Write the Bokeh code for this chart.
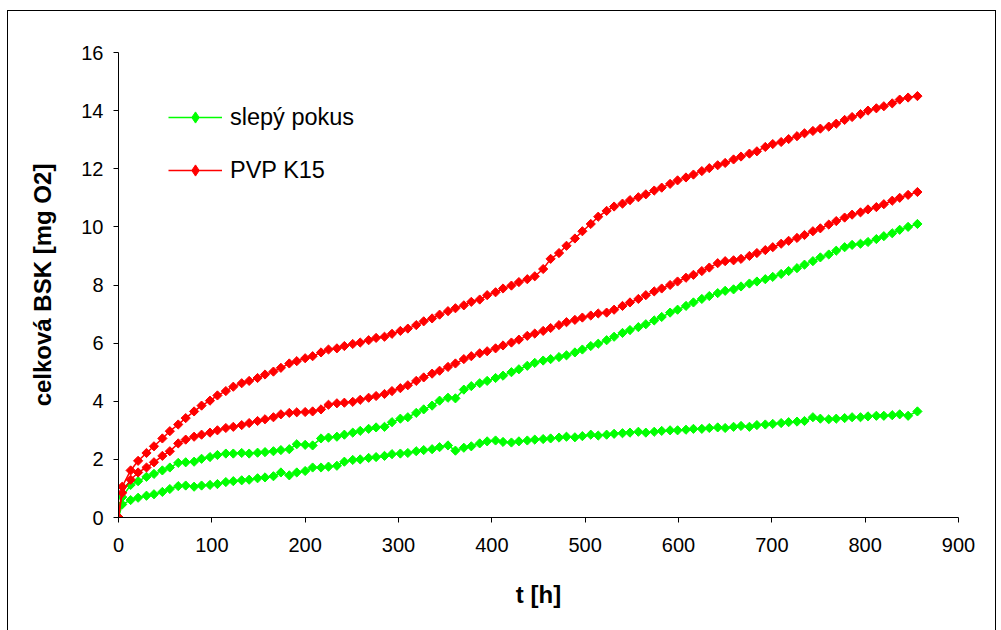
from bokeh.plotting import figure
from bokeh.models import Range1d, FixedTicker, Legend, LegendItem
from bokeh.embed import file_html
from bokeh.resources import INLINE

# measurement times [h]
hours = [0, 4, 13, 21, 30, 38, 47, 55, 64, 72,
         81, 89, 98, 106, 115, 123, 132, 140, 149, 157,
         166, 174, 183, 191, 200, 208, 217, 225, 234, 242,
         251, 259, 268, 276, 285, 293, 302, 310, 319, 327,
         336, 344, 353, 361, 370, 378, 387, 395, 404, 412,
         421, 429, 438, 446, 455, 463, 472, 480, 489, 497,
         506, 514, 523, 531, 540, 548, 557, 565, 574, 582,
         591, 599, 608, 616, 625, 633, 642, 650, 659, 667,
         676, 684, 693, 701, 710, 718, 727, 735, 744, 752,
         761, 769, 778, 786, 795, 803, 812, 820, 829, 837,
         846, 856]

# cumulative BOD [mg O2], PVP K15 flasks
pvp_k15_a = [0, 1.06, 1.62, 1.95, 2.22, 2.45, 2.72, 2.97, 3.2, 3.42,
             3.65, 3.85, 4.02, 4.2, 4.35, 4.5, 4.62, 4.7, 4.8, 4.92,
             5.02, 5.15, 5.3, 5.38, 5.48, 5.55, 5.68, 5.78, 5.82, 5.9,
             5.97, 6.02, 6.1, 6.18, 6.22, 6.32, 6.42, 6.5, 6.62, 6.75,
             6.85, 6.98, 7.1, 7.2, 7.3, 7.42, 7.5, 7.65, 7.75, 7.88,
             7.98, 8.1, 8.2, 8.3, 8.55, 8.9, 9.1, 9.35, 9.6, 9.85,
             10.1, 10.35, 10.55, 10.7, 10.8, 10.92, 11.02, 11.12, 11.25, 11.35,
             11.48, 11.6, 11.7, 11.8, 11.92, 12.02, 12.12, 12.2, 12.32, 12.42,
             12.52, 12.6, 12.75, 12.85, 12.92, 13.02, 13.12, 13.22, 13.3, 13.38,
             13.45, 13.55, 13.68, 13.78, 13.88, 14.0, 14.08, 14.15, 14.25, 14.38,
             14.45, 14.5]
pvp_k15_b = [0, 0.85, 1.3, 1.55, 1.72, 1.9, 2.12, 2.28, 2.55, 2.68,
             2.78, 2.85, 2.92, 3.0, 3.08, 3.12, 3.18, 3.25, 3.32, 3.38,
             3.45, 3.55, 3.6, 3.62, 3.63, 3.65, 3.72, 3.88, 3.93, 3.95,
             3.98, 4.05, 4.12, 4.18, 4.25, 4.35, 4.45, 4.55, 4.7, 4.82,
             4.95, 5.05, 5.18, 5.3, 5.45, 5.55, 5.65, 5.72, 5.82, 5.92,
             6.02, 6.12, 6.25, 6.33, 6.42, 6.52, 6.62, 6.72, 6.8, 6.88,
             6.95, 7.02, 7.05, 7.15, 7.28, 7.4, 7.52, 7.65, 7.78, 7.88,
             8.0, 8.12, 8.25, 8.35, 8.48, 8.6, 8.75, 8.82, 8.85, 8.9,
             9.0, 9.1, 9.2, 9.3, 9.42, 9.52, 9.62, 9.72, 9.85, 9.95,
             10.08, 10.2, 10.32, 10.42, 10.5, 10.6, 10.68, 10.78, 10.9, 11.0,
             11.1, 11.2]

# cumulative BOD [mg O2], blank flasks
blank_a = [0, 0.7, 1.12, 1.25, 1.4, 1.5, 1.62, 1.72, 1.88, 1.9,
           1.92, 2.02, 2.08, 2.15, 2.2, 2.2, 2.22, 2.2, 2.23, 2.25,
           2.28, 2.32, 2.35, 2.52, 2.5, 2.48, 2.72, 2.75, 2.78, 2.85,
           2.92, 2.98, 3.05, 3.1, 3.12, 3.28, 3.4, 3.45, 3.6, 3.72,
           3.85, 4.02, 4.12, 4.1, 4.4, 4.52, 4.62, 4.7, 4.8, 4.88,
           5.0, 5.1, 5.22, 5.32, 5.4, 5.45, 5.52, 5.58, 5.68, 5.78,
           5.9, 5.98, 6.1, 6.22, 6.35, 6.45, 6.55, 6.65, 6.78, 6.9,
           7.05, 7.15, 7.28, 7.4, 7.52, 7.62, 7.72, 7.8, 7.85, 7.95,
           8.05, 8.12, 8.2, 8.28, 8.38, 8.48, 8.58, 8.7, 8.82, 8.95,
           9.05, 9.18, 9.3, 9.38, 9.42, 9.48, 9.58, 9.68, 9.78, 9.9,
           10.0, 10.1]
blank_b = [0, 0.45, 0.6, 0.68, 0.75, 0.8, 0.88, 0.98, 1.08, 1.1,
           1.06, 1.1, 1.12, 1.15, 1.22, 1.25, 1.28, 1.3, 1.35, 1.38,
           1.42, 1.55, 1.45, 1.55, 1.6, 1.72, 1.72, 1.75, 1.78, 1.92,
           1.98, 2.0, 2.05, 2.08, 2.12, 2.18, 2.2, 2.22, 2.28, 2.32,
           2.35, 2.42, 2.48, 2.3, 2.4, 2.45, 2.55, 2.62, 2.65, 2.6,
           2.58, 2.62, 2.65, 2.68, 2.7, 2.72, 2.75, 2.78, 2.76, 2.8,
           2.85, 2.82, 2.85, 2.88, 2.9, 2.92, 2.95, 2.92, 2.95, 2.98,
           3.0, 3.0, 3.02, 3.05, 3.05, 3.08, 3.1, 3.08, 3.12, 3.15,
           3.12, 3.18, 3.2, 3.22, 3.25, 3.28, 3.3, 3.32, 3.45, 3.4,
           3.38, 3.4, 3.42, 3.45, 3.45, 3.48, 3.5, 3.5, 3.52, 3.55,
           3.5, 3.65]

x_ticks = [0, 100, 200, 300, 400, 500, 600, 700, 800, 900]
y_ticks = [0, 2, 4, 6, 8, 10, 12, 14, 16]

GREEN = "#00FF00"
RED = "#FF0000"
FONT = "Liberation Sans"

# canvas sits inside a thin black frame offset from the page corner
OFF_X, OFF_Y = 7, 10
W, H = 989, 625
LEFT, RIGHT, TOP, BOTTOM = 110, 39, 41, 119

p = figure(width=W, height=H,
           x_range=Range1d(0, 900), y_range=Range1d(0, 16),
           output_backend="svg", toolbar_location=None,
           min_border_left=LEFT, min_border_right=RIGHT,
           min_border_top=TOP, min_border_bottom=BOTTOM,
           background_fill_color="white", border_fill_color="white",
           outline_line_color=None)
p.styles = {"margin-left": f"{OFF_X}px", "margin-top": f"{OFF_Y}px",
            "border": "1px solid black"}
p.grid.visible = False


def series(y, color):
    ln = p.line(hours, y, line_color=color, line_width=1.5)
    p.scatter(hours, y, marker="square", size=6.5, angle=0.785398,
              fill_color=color, line_color=color)
    # diamond key used only for the legend swatch
    key = p.scatter(hours, y, marker="diamond", size=11,
                    fill_color=color, line_color=color, visible=False)
    return [ln, key]


blank_r = series(blank_a, GREEN)
series(blank_b, GREEN)
series(pvp_k15_b, RED)
pvp_r = series(pvp_k15_a, RED)

# axes
p.xaxis.ticker = FixedTicker(ticks=x_ticks)
p.yaxis.ticker = FixedTicker(ticks=y_ticks)
p.xaxis.axis_label = "t [h]"
p.yaxis.axis_label = "celková BSK [mg O2]"
for ax in (p.xaxis[0], p.yaxis[0]):
    ax.axis_line_color = "black"
    ax.major_tick_line_color = "black"
    ax.major_tick_in = 0
    ax.major_tick_out = 5
    ax.minor_tick_line_color = None
    ax.major_label_text_font = FONT
    ax.major_label_text_font_size = "20px"
    ax.major_label_text_color = "black"
    ax.axis_label_text_font = FONT
    ax.axis_label_text_font_style = "bold"
    ax.axis_label_text_font_size = "24px"
    ax.axis_label_text_color = "black"
p.xaxis.major_label_standoff = 15
p.xaxis.axis_label_standoff = 26
p.yaxis.major_label_standoff = 10
p.yaxis.axis_label_standoff = 22

# legend in the upper-left corner of the plotting area
legend = Legend(items=[LegendItem(label="slepý pokus", renderers=blank_r),
                       LegendItem(label="PVP K15", renderers=pvp_r)],
                location=(50, 333), orientation="vertical",
                click_policy="none",
                border_line_color=None, background_fill_alpha=0,
                padding=0, margin=0, spacing=25,
                glyph_width=54, glyph_height=28, label_height=28,
                label_standoff=8, label_text_font=FONT,
                label_text_font_size="23.5px", label_text_color="black")
p.add_layout(legend)

open("out.html", "w").write(file_html(p, INLINE))
